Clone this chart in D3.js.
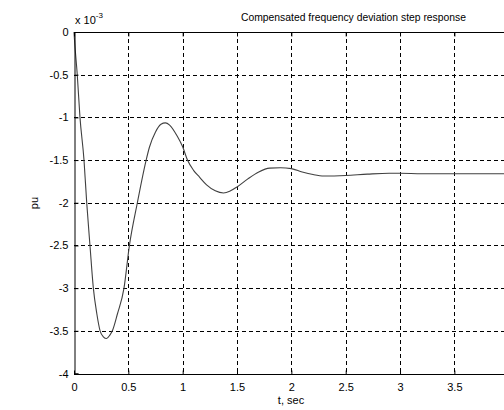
<!DOCTYPE html>
<html><head><meta charset="utf-8">
<script src="https://cdn.jsdelivr.net/npm/d3@7"></script>
<style>body{margin:0;background:#fff}svg{display:block}text{font-family:"Liberation Sans",Arial,sans-serif;font-size:11px;fill:#000}</style>
</head><body>
<svg id="c" width="504" height="410"></svg>
<script>
const tVals = [0,0.005,0.03,0.055,0.092,0.117,0.147,0.178,0.21,0.24,0.27,0.30,0.33,0.353,0.40,0.46,0.51,0.583,0.664,0.694,0.75,0.80,0.841,0.88,0.95,1.0,1.044,1.10,1.155,1.22,1.30,1.376,1.44,1.5,1.6,1.7,1.8,1.9,2.0,2.1,2.2,2.3,2.5,2.7,2.9,3.0,3.2,3.5,4.0];
const yVals = [0,-0.1,-0.5,-1.0,-1.5,-2.0,-2.5,-3.0,-3.3,-3.5,-3.57,-3.59,-3.55,-3.5,-3.3,-3.0,-2.5,-2.0,-1.5,-1.35,-1.17,-1.08,-1.064,-1.09,-1.22,-1.345,-1.5,-1.62,-1.70,-1.79,-1.86,-1.885,-1.86,-1.815,-1.72,-1.64,-1.595,-1.59,-1.60,-1.64,-1.67,-1.686,-1.68,-1.665,-1.655,-1.655,-1.66,-1.66,-1.66];
const xTicks = [0,0.5,1,1.5,2,2.5,3,3.5];
const yTicks = [0,-0.5,-1,-1.5,-2,-2.5,-3,-3.5,-4];
const title = "Compensated frequency deviation step response";
const xLabel = "t, sec";
const yLabel = "pu";

const svg = d3.select("#c");
const x = d3.scaleLinear().domain([0,4]).range([74,508.7]);
const y = d3.scaleLinear().domain([-4,0]).range([373.5,32]);

// grid
const grid = svg.append("g").attr("stroke","#000").attr("stroke-width",1).attr("stroke-dasharray","4,3").attr("fill","none");
xTicks.filter(d=>d>0).forEach(d=>{
  grid.append("line").attr("x1",Math.round(x(d))+0.5).attr("x2",Math.round(x(d))+0.5).attr("y1",y(0)).attr("y2",y(-4));
});
yTicks.filter(d=>d>-4 && d<0).forEach(d=>{
  grid.append("line").attr("y1",Math.round(y(d))+0.5).attr("y2",Math.round(y(d))+0.5).attr("x1",x(0)).attr("x2",504);
});

// curve
const pts = tVals.map((t,i)=>[t,yVals[i]]);
svg.append("path").datum(pts)
  .attr("d", d3.line().x(d=>x(d[0])).y(d=>y(d[1])).curve(d3.curveMonotoneX))
  .attr("fill","none").attr("stroke","#404040").attr("stroke-width",1.1);

// axes
const xAx = d3.axisBottom(x).tickValues(xTicks).tickSize(-4).tickPadding(8).tickFormat(d3.format("~g"));
const gx = svg.append("g").attr("transform",`translate(0,${Math.round(y(-4))+0.5})`).call(xAx);
const xTop = d3.axisTop(x).tickValues(xTicks).tickSize(-4).tickFormat("");
const gt = svg.append("g").attr("transform",`translate(0,${Math.round(y(0))+0.5})`).call(xTop);
const yAx = d3.axisLeft(y).tickValues(yTicks).tickSize(-4).tickPadding(6).tickFormat(d=>d3.format("~g")(d).replace("−","-"));
const gy = svg.append("g").attr("transform",`translate(${Math.round(x(0))+0.5},0)`).call(yAx);
[gx,gt,gy].forEach(g=>{
  g.select(".domain").attr("stroke","#000");
  g.selectAll(".tick line").attr("stroke","#000");
  g.selectAll("text").attr("font-family","Liberation Sans, Arial, sans-serif").attr("font-size",11).attr("fill","#000");
});
gx.selectAll(".tick text").attr("dy","0.75em");
gx.select(".domain").attr("d",`M${x(0)},0H504`);
gt.select(".domain").attr("d",`M${x(0)},0H504`);

// labels
svg.append("text").attr("x",241).attr("y",21).attr("textLength",225).attr("lengthAdjust","spacingAndGlyphs").text(title);
svg.append("text").attr("x",291).attr("y",404).attr("text-anchor","middle").text(xLabel);
svg.append("text").attr("transform","translate(38,203) rotate(-90)").attr("text-anchor","middle").text(yLabel);
const ex = svg.append("text").attr("x",75).attr("y",24);
ex.append("tspan").text("x 10");
ex.append("tspan").attr("dy",-6).attr("font-size",8).text("-3");
</script>
</body></html>
